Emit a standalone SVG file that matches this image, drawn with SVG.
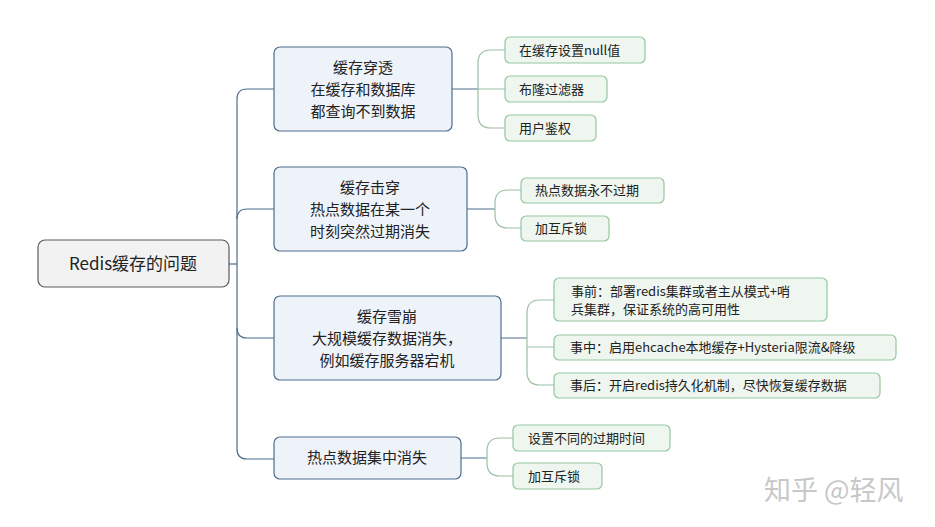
<svg xmlns="http://www.w3.org/2000/svg" width="935" height="527" viewBox="0 0 935 527">
<style>
text{font-family:"Noto Sans CJK SC","Noto Sans",sans-serif;fill:#222}
.root{fill:#f2f2f2;stroke:#5a5a5a;stroke-width:1.2}
.l1{fill:#eef3fa;stroke:#4d6e8e;stroke-width:1.2}
.l2{fill:#eef6ef;stroke:#93c79d;stroke-width:1.2}
.m{fill:none;stroke:#4d6e8e;stroke-width:1.2}
.s{fill:none;stroke:#9bbfa3;stroke-width:1.2}
.t1{font-size:15px;text-anchor:middle}
.t2{font-size:13px}
</style>
<g id="connectors">
<path class="m" d="M229 264H237"/>
<path class="m" d="M274 89H247Q237 89 237 99V449Q237 459 247 459H274"/>
<path class="m" d="M237 219Q237 209 247 209H274"/>
<path class="m" d="M237 328Q237 338 247 338H274"/>
<path class="m" d="M452 89H478M467 209H495M501 338H527M461 458H487"/>
<path class="s" d="M505 50H491Q478 50 478 63V115Q478 128 491 128H505M478 89H505"/>
<path class="s" d="M521 190H508Q495 190 495 203V215Q495 228 508 228H521"/>
<path class="s" d="M554 300H540Q527 300 527 313V372Q527 385 540 385H554M527 347H554"/>
<path class="s" d="M513 438H500Q487 438 487 451V463Q487 476 500 476H513"/>
</g>
<g id="root"><rect class="root" x="38" y="240" width="191" height="47" rx="7"/><text x="133" y="270" font-size="17" text-anchor="middle">Redis缓存的问题</text></g>
<g id="n1"><rect class="l1" x="274" y="47" width="178" height="84" rx="6"/><text class="t1" x="363" y="73">缓存穿透</text><text class="t1" x="363" y="95">在缓存和数据库</text><text class="t1" x="363" y="117">都查询不到数据</text></g>
<g id="n2"><rect class="l1" x="274" y="167" width="193" height="84" rx="6"/><text class="t1" x="370" y="193">缓存击穿</text><text class="t1" x="370" y="215">热点数据在某一个</text><text class="t1" x="370" y="237">时刻突然过期消失</text></g>
<g id="n3"><rect class="l1" x="274" y="296" width="227" height="84" rx="6"/><text class="t1" x="387" y="322">缓存雪崩</text><text class="t1" x="387" y="344">大规模缓存数据消失，</text><text class="t1" x="387" y="366">例如缓存服务器宕机</text></g>
<g id="n4"><rect class="l1" x="274" y="437" width="187" height="42" rx="6"/><text class="t1" x="367" y="463">热点数据集中消失</text></g>
<g id="s1"><rect class="l2" x="505" y="37" width="140" height="26" rx="5"/><text class="t2" x="519" y="55">在缓存设置null值</text></g>
<g id="s2"><rect class="l2" x="505" y="76" width="102" height="26" rx="5"/><text class="t2" x="519" y="94">布隆过滤器</text></g>
<g id="s3"><rect class="l2" x="505" y="115" width="91" height="26" rx="5"/><text class="t2" x="519" y="133">用户鉴权</text></g>
<g id="s4"><rect class="l2" x="521" y="178" width="143" height="25" rx="5"/><text class="t2" x="535" y="195">热点数据永不过期</text></g>
<g id="s5"><rect class="l2" x="521" y="216" width="88" height="25" rx="5"/><text class="t2" x="535" y="233">加互斥锁</text></g>
<g id="s6"><rect class="l2" x="554" y="278" width="273" height="43" rx="5"/><text class="t2" x="571" y="296">事前：部署redis集群或者主从模式+哨</text><text class="t2" x="571" y="314">兵集群，保证系统的高可用性</text></g>
<g id="s7"><rect class="l2" x="554" y="335" width="342" height="25" rx="5"/><text class="t2" x="570" y="352">事中：启用ehcache本地缓存+Hysteria限流&amp;降级</text></g>
<g id="s8"><rect class="l2" x="554" y="373" width="326" height="25" rx="5"/><text class="t2" x="570" y="390">事后：开启redis持久化机制，尽快恢复缓存数据</text></g>
<g id="s9"><rect class="l2" x="513" y="425" width="157" height="26" rx="5"/><text class="t2" x="528" y="443">设置不同的过期时间</text></g>
<g id="s10"><rect class="l2" x="513" y="463" width="89" height="26" rx="5"/><text class="t2" x="528" y="481">加互斥锁</text></g>
<text x="764" y="500" font-size="27" style="fill:#c8c8c8">知乎 @轻风</text>
</svg>
